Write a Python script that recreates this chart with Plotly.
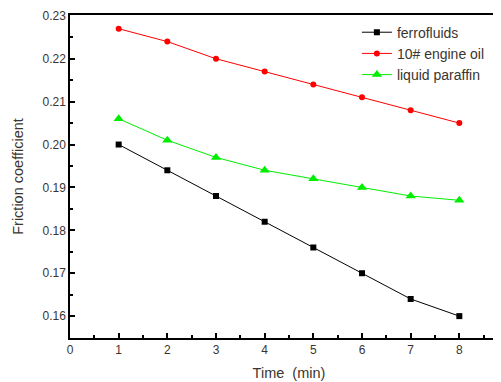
import plotly.graph_objects as go

time_min = [1, 2, 3, 4, 5, 6, 7, 8]
ferrofluids = [0.200, 0.194, 0.188, 0.182, 0.176, 0.170, 0.164, 0.160]
engine_oil = [0.227, 0.224, 0.220, 0.217, 0.214, 0.211, 0.208, 0.205]
liquid_paraffin = [0.206, 0.201, 0.197, 0.194, 0.192, 0.190, 0.188, 0.187]

x_ticks = [0, 1, 2, 3, 4, 5, 6, 7, 8]
y_ticks = [0.16, 0.17, 0.18, 0.19, 0.20, 0.21, 0.22, 0.23]
y_tick_text = ["0.16", "0.17", "0.18", "0.19", "0.20", "0.21", "0.22", "0.23"]

fig = go.Figure()
fig.add_trace(go.Scatter(x=time_min, y=ferrofluids, name="ferrofluids", mode="lines+markers",
                         line=dict(color="black", width=1),
                         marker=dict(symbol="square", size=6, color="black")))
fig.add_trace(go.Scatter(x=time_min, y=engine_oil, name="10# engine oil", mode="lines+markers",
                         line=dict(color="#ff0000", width=1),
                         marker=dict(symbol="circle", size=6, color="#ff0000")))
fig.add_trace(go.Scatter(x=time_min, y=liquid_paraffin, name="liquid paraffin", mode="lines+markers",
                         line=dict(color="#00ee00", width=1),
                         marker=dict(symbol="triangle-up", size=9, color="#00ee00")))

font_family = "Liberation Sans, Arial, sans-serif"
text_color = "#3a3530"
fig.update_layout(
    width=501, height=382,
    margin=dict(l=62, r=1, t=7, b=52),
    paper_bgcolor="white", plot_bgcolor="white",
    font=dict(family=font_family, size=12, color=text_color),
    showlegend=True,
    legend=dict(x=0.655, y=0.995, xanchor="left", yanchor="top",
                bgcolor="rgba(0,0,0,0)", font=dict(size=14, color=text_color),
                tracegroupgap=0, itemwidth=30),
    xaxis=dict(range=[0, 9], tickvals=x_ticks, ticks="inside", ticklen=5, tickwidth=1.5,
               tickcolor="black", showline=True, linecolor="black", linewidth=1.5, mirror=True,
               showgrid=False, zeroline=False, tickfont=dict(size=12),
               minor=dict(dtick=0.5, tick0=0, ticks="inside", ticklen=3, tickcolor="black", tickwidth=1.5, showgrid=False),
               title=dict(text="Time  (min)", font=dict(size=14.5, color=text_color), standoff=12)),
    yaxis=dict(range=[0.1549, 0.2302], tickvals=y_ticks, ticktext=y_tick_text, ticks="inside", ticklen=5,
               tickwidth=1.5, tickcolor="black", showline=True, linecolor="black", linewidth=1.5,
               mirror=False, showgrid=False, zeroline=False, tickfont=dict(size=12),
               minor=dict(dtick=0.005, tick0=0.155, ticks="inside", ticklen=3, tickcolor="black", tickwidth=1.5, showgrid=False),
               title=dict(text="Friction coefficient", font=dict(size=14.5, color=text_color), standoff=15)),
)

fig.write_html("out.html")
